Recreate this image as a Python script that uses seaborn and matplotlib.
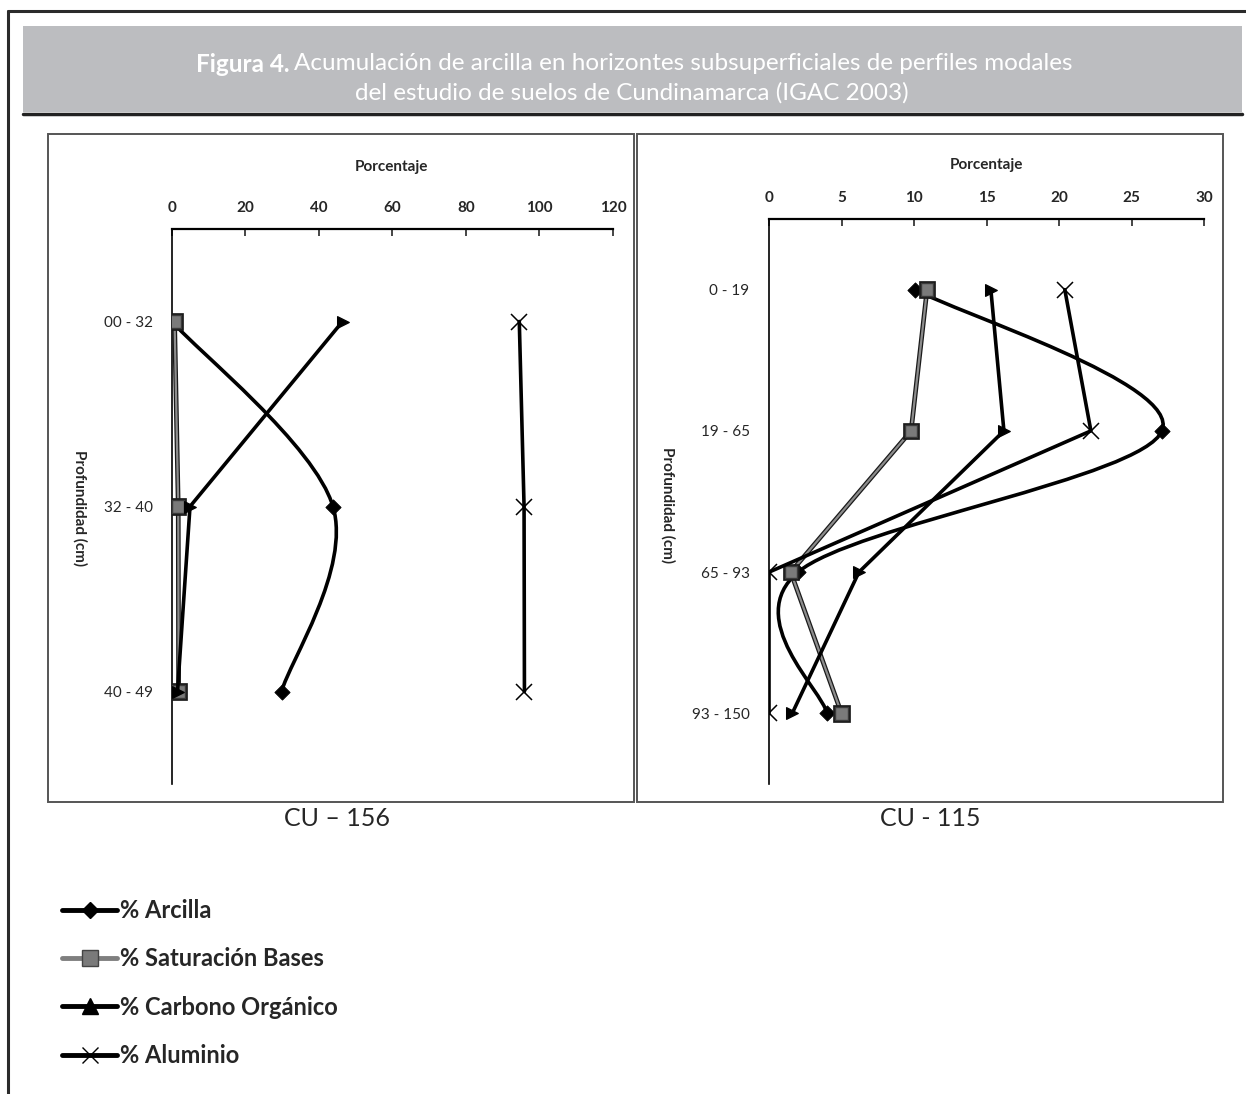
import numpy as np
import pandas as pd
import seaborn as sns
import matplotlib.pyplot as plt
import matplotlib.patheffects as pe
from matplotlib.path import Path
from matplotlib.patches import PathPatch, Rectangle
from matplotlib.lines import Line2D

# perfil CU-156
prof_156 = ['00 - 32', '32 - 40', '40 - 49']
arcilla_156 = [0.0, 43.8, 29.8]
saturacion_156 = [0.7, 1.7, 1.8]
carbono_156 = [46.4, 4.9, 1.5]
aluminio_156 = [94.5, 95.8, 95.9]

# perfil CU-115
prof_115 = ['0 - 19', '19 - 65', '65 - 93', '93 - 150']
arcilla_115 = [10.1, 27.1, 2.0, 4.0]
saturacion_115 = [10.9, 9.8, 1.5, 5.0]
carbono_115 = [15.3, 16.2, 6.2, 1.6]
aluminio_115 = [20.4, 22.2, 0.0, 0.0]

series_names = ['% Arcilla', '% Saturación Bases', '% Carbono Orgánico', '% Aluminio']

sns.set_style('white')
plt.rcParams['font.family'] = ['Lato', 'DejaVu Sans']

W, H = 1246, 1094
fig = plt.figure(figsize=(W / 100, H / 100), dpi=100)


def fx(px):
    return px / W


def fy(py):
    return 1 - py / H


# page frame + title banner
fig.add_artist(Line2D([fx(8), 1], [fy(11), fy(11)], lw=2.2, color='#2b2b2b'))
fig.add_artist(Line2D([fx(8), fx(8)], [fy(11), 0], lw=2.2, color='#2b2b2b'))
fig.add_artist(Rectangle((fx(23), fy(112)), (1242 - 23) / W, (112 - 26) / H,
                         fc='#bcbdc0', ec='none'))
fig.add_artist(Line2D([fx(23), fx(1242)], [fy(113.5), fy(113.5)], lw=2.5, color='#222222'))
fig.text(fx(289), fy(64), 'Figura 4.', color='white', fontsize=17.5, fontweight='bold',
         ha='right', va='center')
fig.text(fx(294), fy(64), 'Acumulación de arcilla en horizontes subsuperficiales de perfiles modales',
         color='white', fontsize=17.5, ha='left', va='center')
fig.text(fx(632), fy(93), 'del estudio de suelos de Cundinamarca (IGAC 2003)',
         color='white', fontsize=17.5, ha='center', va='center')

# chart boxes
for x0, x1 in [(48, 634), (637, 1223)]:
    fig.add_artist(Rectangle((fx(x0), fy(802)), (x1 - x0) / W, (802 - 134) / H,
                             fill=False, ec='#555555', lw=1.4))


def smooth_path(ax, xs, ys):
    # Excel style smoothed line: cubic bezier, computed in screen space
    pts = ax.transData.transform(np.column_stack([xs, ys]))
    n = len(pts)
    verts = [pts[0]]
    codes = [Path.MOVETO]
    for i in range(n - 1):
        p0 = pts[max(i - 1, 0)]
        p1 = pts[i]
        p2 = pts[i + 1]
        p3 = pts[min(i + 2, n - 1)]
        verts += [p1 + (p2 - p0) / 6, p2 - (p3 - p1) / 6, p2]
        codes += [Path.CURVE4] * 3
    verts = ax.transData.inverted().transform(np.array(verts))
    return Path(verts, codes)


def draw_panel(ax, cats, arc, sat, carb, alu, xmax, xstep):
    pos = np.arange(len(cats)) + 0.5
    df = pd.DataFrame({'pos': pos, 'arc': arc, 'sat': sat, 'carb': carb, 'alu': alu})

    sns.scatterplot(data=df, x='arc', y='pos', ax=ax, marker='D', s=60, color='black',
                    edgecolor='black', zorder=4)
    sns.lineplot(data=df, x='sat', y='pos', ax=ax, sort=False, estimator=None, color='#8c8c8c',
                 lw=1.6, marker='s', markersize=9, markerfacecolor='#7a7a7a',
                 markeredgecolor='#3a3a3a', markeredgewidth=1.0, zorder=5,
                 path_effects=[pe.Stroke(linewidth=3.4, foreground='#1a1a1a'), pe.Normal()])
    sns.lineplot(data=df, x='carb', y='pos', ax=ax, sort=False, estimator=None, color='black',
                 lw=2.6, marker='>', markersize=9, markeredgecolor='black', zorder=6)
    sns.lineplot(data=df, x='alu', y='pos', ax=ax, sort=False, estimator=None, color='black',
                 lw=2.6, marker='x', markersize=11, markeredgewidth=1.1,
                 markeredgecolor='black', zorder=7)

    ax.set_xlim(0, xmax)
    ax.set_ylim(len(cats), 0)
    ax.add_patch(PathPatch(smooth_path(ax, df['arc'], df['pos']), fill=False,
                           lw=2.6, ec='black', zorder=3))

    ax.set_facecolor('none')
    for s in ['right', 'bottom']:
        ax.spines[s].set_visible(False)
    ax.spines['top'].set_linewidth(1.6)
    ax.spines['left'].set_linewidth(1.2)
    ax.spines['top'].set_color('black')
    ax.spines['left'].set_color('black')

    ax.xaxis.tick_top()
    ax.set_xticks(np.arange(0, xmax + 0.1, xstep))
    ax.tick_params(axis='x', direction='in', length=5, width=1.2, labelsize=11, pad=10)
    for lab in ax.get_xticklabels():
        lab.set_fontweight('bold')
    ax.set_xlabel('')

    ax.set_yticks(np.arange(0, len(cats) + 1))
    ax.set_yticklabels([])
    ax.set_yticks(pos, minor=True)
    ax.set_yticklabels(cats, minor=True)
    ax.tick_params(axis='y', which='major', direction='out', length=5, width=1.0)
    ax.tick_params(axis='y', which='minor', length=0, labelsize=11, pad=14)
    ax.set_ylabel('')
    ax.grid(False)


ax1 = fig.add_axes([fx(172), fy(784), (613 - 172) / W, (784 - 229) / H])
draw_panel(ax1, prof_156, arcilla_156, saturacion_156, carbono_156, aluminio_156, 120, 20)

ax2 = fig.add_axes([fx(769), fy(784), (1204 - 769) / W, (784 - 219) / H])
draw_panel(ax2, prof_115, arcilla_115, saturacion_115, carbono_115, aluminio_115, 30, 5)

fig.text(fx(391), fy(167), 'Porcentaje', fontsize=11, fontweight='bold', ha='center', va='center')
fig.text(fx(986), fy(165), 'Porcentaje', fontsize=11, fontweight='bold', ha='center', va='center')

fig.text(fx(80), fy(508), 'Profundidad (cm)', rotation=270, fontsize=11, fontweight='bold',
         ha='center', va='center')
fig.text(fx(668), fy(505), 'Profundidad (cm)', rotation=270, fontsize=11, fontweight='bold',
         ha='center', va='center')

fig.text(fx(337), fy(819), 'CU – 156', fontsize=18, ha='center', va='center')
fig.text(fx(930), fy(819), 'CU - 115', fontsize=18, ha='center', va='center')

handles = [
    Line2D([], [], color='black', lw=3.5, marker='D', markersize=8, markerfacecolor='black'),
    Line2D([], [], color='#7f7f7f', lw=3.5, marker='s', markersize=11,
           markerfacecolor='#7a7a7a', markeredgecolor='#444444'),
    Line2D([], [], color='black', lw=3.5, marker='^', markersize=11),
    Line2D([], [], color='black', lw=3.5, marker='x', markersize=12, markeredgewidth=1.0),
]
fig.legend(handles, series_names, loc='upper left', bbox_to_anchor=(fx(62), fy(899)),
           frameon=False, prop={'weight': 'bold', 'size': 17}, handlelength=2.35,
           handletextpad=0.12, labelspacing=1.07, borderpad=0, borderaxespad=0)

fig.savefig('out.png', dpi=100)
